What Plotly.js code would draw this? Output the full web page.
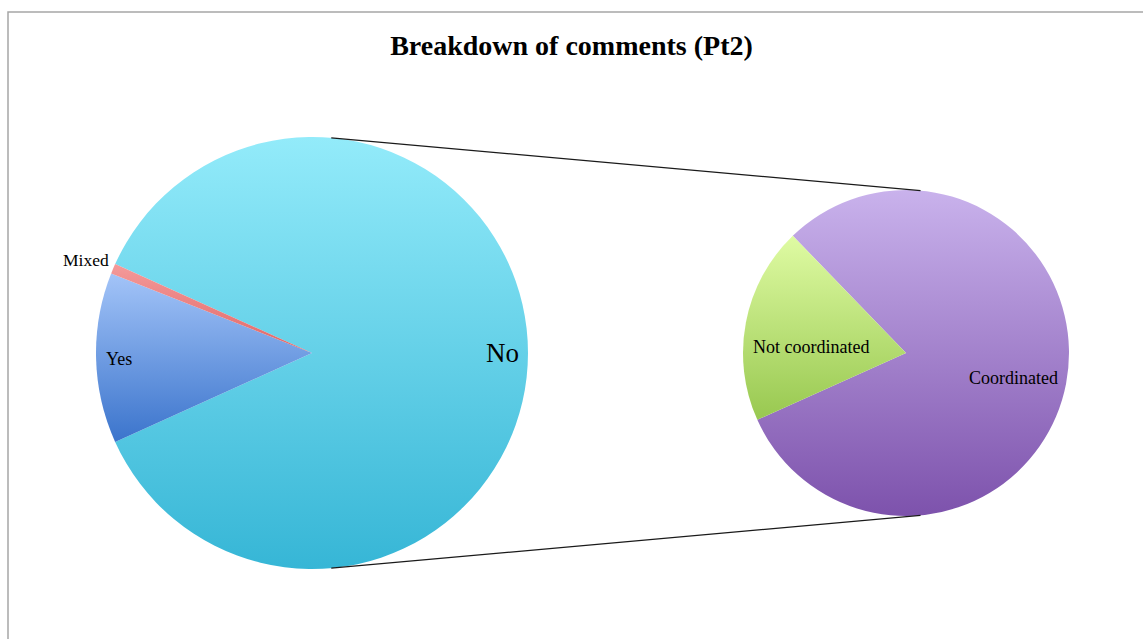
<!DOCTYPE html>
<html>
<head>
<meta charset="utf-8">
<script src="https://cdn.plot.ly/plotly-3.0.1.min.js"></script>
<style>
html,body{margin:0;padding:0;background:#ffffff;}
#chart{width:1143px;height:639px;}
</style>
</head>
<body>
<div id="chart"></div>
<script>
// ---- data ----
const mainLabels = ["No", "Yes", "Mixed"];
const mainValues = [86.5, 12.75, 0.75];
const subLabels = ["Coordinated", "Not coordinated"];
const subValues = [80.5, 19.5];
const titleText = "Breakdown of comments (Pt2)";

// ---- styles ----
const W = 1143, H = 639;
const mainPie = {cx: 312, cy: 353, r: 216};
const subPie = {cx: 906, cy: 353, r: 163};
const mainColors = ["#63D1EA", "#6E9DE4", "#EE7F7F"];
const subColors = ["#A384CC", "#BEE67C"];
const gradients = {
  "No": ["#93EBFA", "#36B6D6"],
  "Yes": ["#A3C4F8", "#3B74CC"],
  "Mixed": ["#F49A9A", "#E06666"],
  "Coordinated": ["#C9B2EC", "#7D52AC"],
  "Not coordinated": ["#DFFBA3", "#98C850"]
};
// label placement: [angle offset (deg, math), radial fraction, font size]
const labelStyle = {
  "No": [0, 0.884, 27],
  "Yes": [0.5, 0.896, 18],
  "Mixed": [0.5, 1.13, 17.5],
  "Coordinated": [-2.1, 0.68, 18],
  "Not coordinated": [7.3, 0.584, 18]
};
const subRotation = -44;
const serif = "Liberation Serif, Times New Roman, serif";

function domainOf(p) {
  return {
    x: [(p.cx - p.r) / W, (p.cx + p.r) / W],
    y: [(H - p.cy - p.r) / H, (H - p.cy + p.r) / H]
  };
}
function sum(a) { return a.reduce((s, v) => s + v, 0); }

const mainRotation = 90 - 180 * mainValues[0] / sum(mainValues);

// label annotations computed from slice angles (clockwise from 12 o'clock)
function sliceLabels(labels, values, rotation, pie) {
  const tot = sum(values);
  let a = rotation;
  const anns = [];
  labels.forEach((lab, i) => {
    const span = 360 * values[i] / tot;
    const mid = a + span / 2;
    a += span;
    const st = labelStyle[lab];
    const math = (90 - mid + st[0]) * Math.PI / 180;
    const px = pie.cx + st[1] * pie.r * Math.cos(math);
    const py = pie.cy - st[1] * pie.r * Math.sin(math);
    anns.push({
      x: px / W, y: 1 - py / H, xref: "paper", yref: "paper",
      text: lab, showarrow: false, xanchor: "center", yanchor: "middle",
      font: {family: serif, size: st[2], color: "#000000"}
    });
  });
  return anns;
}

// external common tangents between the two pies
function tangentShapes(p1, p2) {
  const d = p2.cx - p1.cx;
  const al = Math.asin((p1.r - p2.r) / d);
  const s = Math.sin(al), c = Math.cos(al);
  const shapes = [];
  [-1, 1].forEach(sg => {
    const x0 = p1.cx + p1.r * s, y0 = p1.cy + sg * p1.r * c;
    const x1 = p2.cx + p2.r * s, y1 = p2.cy + sg * p2.r * c;
    shapes.push({
      type: "line", xref: "paper", yref: "paper",
      x0: x0 / W, y0: 1 - y0 / H, x1: x1 / W, y1: 1 - y1 / H,
      line: {color: "#1a1a1a", width: 1.2}
    });
  });
  return shapes;
}

const traces = [
  {
    type: "pie", labels: mainLabels, values: mainValues, sort: false,
    direction: "clockwise", rotation: mainRotation,
    domain: domainOf(mainPie), textinfo: "none", hoverinfo: "skip",
    marker: {colors: mainColors, line: {width: 0}}
  },
  {
    type: "pie", labels: subLabels, values: subValues, sort: false,
    direction: "clockwise", rotation: subRotation,
    domain: domainOf(subPie), textinfo: "none", hoverinfo: "skip",
    marker: {colors: subColors, line: {width: 0}}
  }
];

const border = {
  type: "rect", xref: "paper", yref: "paper",
  x0: 8 / W, x1: 1.2, y0: -0.2, y1: 1 - 12 / H,
  line: {color: "#A6A6A6", width: 1.5}, fillcolor: "rgba(0,0,0,0)", layer: "below"
};

const layout = {
  width: W, height: H,
  margin: {l: 0, r: 0, t: 0, b: 0, pad: 0},
  paper_bgcolor: "#ffffff", plot_bgcolor: "#ffffff",
  showlegend: false,
  title: {
    text: "<b>" + titleText + "</b>",
    x: 0.5, xref: "paper", xanchor: "center",
    y: 1 - 45 / H, yref: "paper", yanchor: "middle",
    font: {family: serif, size: 28, color: "#000000"}
  },
  annotations: sliceLabels(mainLabels, mainValues, mainRotation, mainPie)
    .concat(sliceLabels(subLabels, subValues, subRotation, subPie)),
  shapes: [border].concat(tangentShapes(mainPie, subPie))
};

Plotly.newPlot("chart", traces, layout, {staticPlot: true, displayModeBar: false}).then(gd => {
  // apply vertical gradients to slices
  const svg = gd.querySelector("svg.main-svg");
  const ns = "http://www.w3.org/2000/svg";
  let defs = svg.querySelector("defs");
  if (!defs) { defs = document.createElementNS(ns, "defs"); svg.insertBefore(defs, svg.firstChild); }
  let k = 0;
  gd.querySelectorAll("g.slice path.surface").forEach(path => {
    const pt = path.__data__;
    if (!pt || !gradients[pt.label]) return;
    const g = gradients[pt.label];
    const id = "slgrad" + (k++);
    const lg = document.createElementNS(ns, "linearGradient");
    lg.setAttribute("id", id);
    lg.setAttribute("x1", "0"); lg.setAttribute("y1", "0");
    lg.setAttribute("x2", "0"); lg.setAttribute("y2", "1");
    [[0, g[0]], [1, g[1]]].forEach(s => {
      const stop = document.createElementNS(ns, "stop");
      stop.setAttribute("offset", s[0]);
      stop.setAttribute("stop-color", s[1]);
      lg.appendChild(stop);
    });
    defs.appendChild(lg);
    path.style.fill = "url(#" + id + ")";
  });
});
</script>
</body>
</html>
